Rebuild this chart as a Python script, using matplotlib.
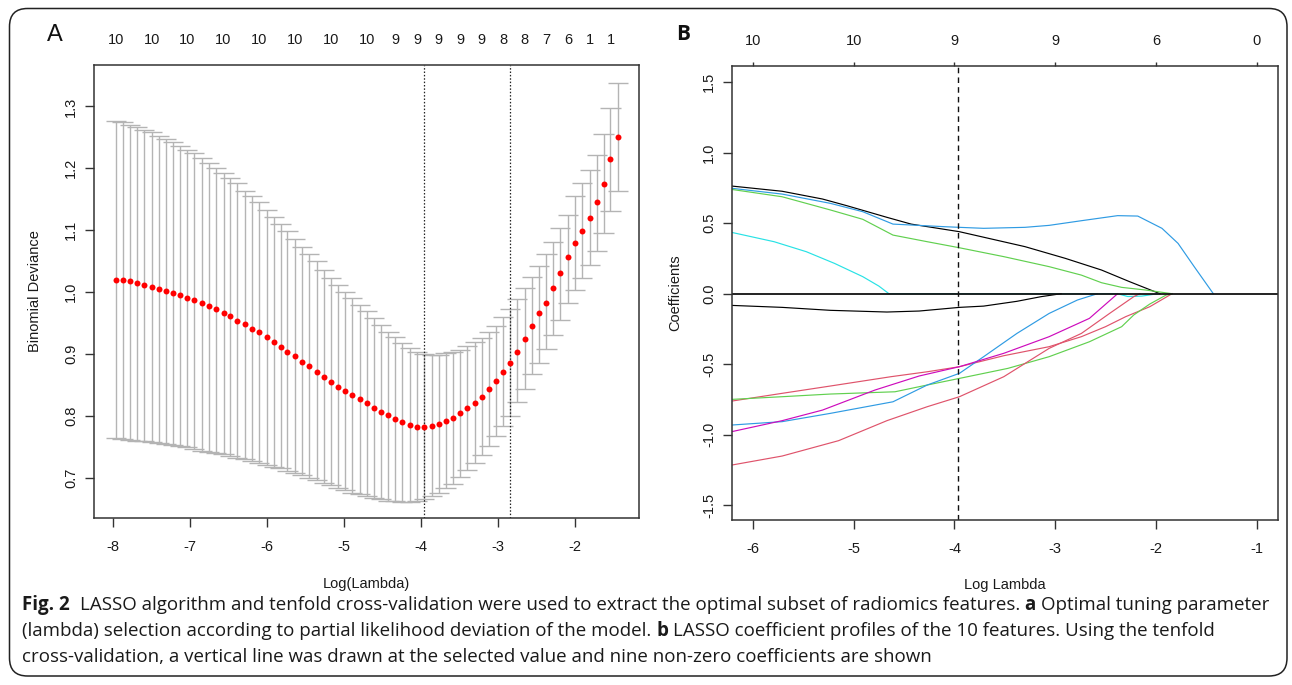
import matplotlib
matplotlib.use("Agg")
import matplotlib.pyplot as plt
from matplotlib import font_manager
from matplotlib.patches import FancyBboxPatch
from matplotlib.transforms import IdentityTransform

W, H = 1292, 685

# ---------- panel A: cross-validated binomial deviance ----------
log_lambda = [-7.96, -7.87, -7.77, -7.68, -7.59, -7.49, -7.40, -7.31, -7.21, -7.12,
              -7.03, -6.94, -6.84, -6.75, -6.66, -6.56, -6.47, -6.38, -6.28, -6.19,
              -6.10, -6.00, -5.91, -5.82, -5.73, -5.63, -5.54, -5.45, -5.35, -5.26,
              -5.17, -5.07, -4.98, -4.89, -4.79, -4.70, -4.61, -4.52, -4.42, -4.33,
              -4.24, -4.14, -4.05, -3.96, -3.86, -3.77, -3.68, -3.58, -3.49, -3.40,
              -3.30, -3.21, -3.12, -3.03, -2.93, -2.84, -2.75, -2.65, -2.56, -2.47,
              -2.37, -2.28, -2.19, -2.09, -2.00, -1.91, -1.81, -1.72, -1.63, -1.54,
              -1.44]
cv_mean = [1.020, 1.019, 1.018, 1.015, 1.012, 1.008, 1.005, 1.002, 0.999, 0.995, 0.991, 0.987,
           0.982, 0.978, 0.972, 0.966, 0.961, 0.954, 0.948, 0.941, 0.935, 0.928, 0.920, 0.912,
           0.904, 0.896, 0.887, 0.880, 0.871, 0.863, 0.854, 0.847, 0.841, 0.833, 0.827, 0.821,
           0.813, 0.807, 0.801, 0.795, 0.790, 0.786, 0.782, 0.782, 0.784, 0.787, 0.791, 0.796,
           0.804, 0.813, 0.821, 0.831, 0.843, 0.857, 0.871, 0.886, 0.904, 0.924, 0.946, 0.966,
           0.983, 1.006, 1.031, 1.057, 1.080, 1.099, 1.120, 1.145, 1.175, 1.215, 1.250]
cv_upper = [1.277, 1.275, 1.270, 1.267, 1.262, 1.258, 1.253, 1.248, 1.242, 1.236, 1.230, 1.224,
            1.216, 1.209, 1.201, 1.192, 1.185, 1.176, 1.164, 1.155, 1.145, 1.133, 1.122, 1.110,
            1.098, 1.086, 1.073, 1.061, 1.050, 1.036, 1.023, 1.011, 1.000, 0.990, 0.979, 0.969,
            0.958, 0.947, 0.936, 0.927, 0.918, 0.909, 0.903, 0.900, 0.898, 0.898, 0.901, 0.904,
            0.907, 0.913, 0.919, 0.926, 0.936, 0.946, 0.959, 0.973, 0.989, 1.006, 1.025, 1.043,
            1.061, 1.081, 1.103, 1.124, 1.155, 1.177, 1.198, 1.222, 1.256, 1.298, 1.338]
cv_lower = [0.764, 0.763, 0.761, 0.760, 0.759, 0.758, 0.756, 0.755, 0.753, 0.751, 0.749, 0.746,
            0.744, 0.742, 0.740, 0.738, 0.735, 0.732, 0.730, 0.727, 0.724, 0.721, 0.718, 0.715,
            0.711, 0.708, 0.704, 0.700, 0.696, 0.691, 0.688, 0.684, 0.680, 0.676, 0.673, 0.670,
            0.667, 0.665, 0.663, 0.662, 0.661, 0.661, 0.663, 0.666, 0.671, 0.675, 0.683, 0.690,
            0.701, 0.712, 0.724, 0.736, 0.751, 0.767, 0.783, 0.800, 0.822, 0.844, 0.867, 0.886,
            0.908, 0.931, 0.955, 0.982, 1.004, 1.023, 1.044, 1.066, 1.095, 1.131, 1.164]
lambda_min = -3.96
lambda_1se = -2.84
nz_idx = [0, 5, 10, 15, 20, 25, 30, 35, 39, 42, 45, 48, 51, 54, 57, 60, 63, 66, 69]
nz_lab = ["10", "10", "10", "10", "10", "10", "10", "10", "9", "9", "9", "9", "9",
          "8", "8", "7", "6", "1", "1"]

# ---------- panel B: coefficient profiles ----------
b_ticks = [-6, -5, -4, -3, -2, -1]
b_df = ["10", "10", "9", "9", "6", "0"]

black_pos_x = [-6.21, -5.71, -5.31, -5.07, -4.67, -4.43, -3.95, -3.30, -2.90, -2.54, -2.26, -1.96]
black_pos_y = [0.764, 0.727, 0.672, 0.625, 0.542, 0.494, 0.440, 0.334, 0.251, 0.168, 0.085, 0.0]
blue_pos_x = [-6.21, -5.71, -5.23, -4.91, -4.61, -4.11, -3.95, -3.71, -3.30, -3.06, -2.74,
              -2.38, -2.18, -1.94, -1.78, -1.62, -1.43]
blue_pos_y = [0.748, 0.707, 0.641, 0.582, 0.494, 0.476, 0.471, 0.464, 0.471, 0.485, 0.518,
              0.554, 0.551, 0.464, 0.357, 0.192, 0.0]
green_pos_x = [-6.21, -5.71, -5.23, -4.91, -4.61, -4.27, -3.95, -3.51, -3.06, -2.74, -2.54,
               -2.34, -2.10, -1.84]
green_pos_y = [0.740, 0.688, 0.594, 0.528, 0.416, 0.369, 0.326, 0.263, 0.192, 0.132, 0.078,
               0.045, 0.026, 0.0]
cyan_x = [-6.21, -5.79, -5.47, -5.19, -4.91, -4.75, -4.65, -2.38, -2.28, -2.14, -1.98]
cyan_y = [0.435, 0.369, 0.298, 0.215, 0.121, 0.054, 0.0, 0.0, -0.020, -0.017, 0.0]
black_neg_x = [-6.21, -5.71, -5.23, -4.67, -4.35, -3.95, -3.71, -3.38, -3.14, -2.94]
black_neg_y = [-0.083, -0.097, -0.118, -0.130, -0.123, -0.097, -0.088, -0.054, -0.021, 0.0]
pink_a_x = [-6.21, -5.71, -5.23, -4.63, -4.27, -3.95, -3.51, -3.06, -2.74, -2.50, -2.30,
            -2.06, -1.84]
pink_a_y = [-0.762, -0.707, -0.655, -0.589, -0.554, -0.518, -0.440, -0.376, -0.305, -0.234,
            -0.163, -0.092, 0.0]
green_neg_x = [-6.21, -5.71, -5.23, -4.59, -4.27, -3.95, -3.47, -3.06, -2.66, -2.34, -2.22,
               -2.06, -1.90, -1.84]
green_neg_y = [-0.750, -0.731, -0.712, -0.696, -0.648, -0.601, -0.530, -0.447, -0.341, -0.234,
               -0.151, -0.073, -0.010, 0.0]
blue_neg_x = [-6.21, -5.71, -5.23, -4.61, -4.27, -3.95, -3.71, -3.38, -3.06, -2.78, -2.58]
blue_neg_y = [-0.932, -0.908, -0.849, -0.767, -0.648, -0.565, -0.447, -0.282, -0.140, -0.045, 0.0]
magenta_x = [-6.21, -5.71, -5.31, -4.79, -4.35, -3.95, -3.51, -3.06, -2.66, -2.38]
magenta_y = [-0.979, -0.901, -0.826, -0.684, -0.584, -0.518, -0.423, -0.305, -0.175, 0.0]
pink_b_x = [-6.21, -5.71, -5.15, -4.67, -4.27, -3.95, -3.51, -3.06, -2.74, -2.46, -2.22, -2.16]
pink_b_y = [-1.216, -1.152, -1.043, -0.901, -0.802, -0.731, -0.589, -0.388, -0.282, -0.140,
            -0.021, 0.0]

caption = [
    [("Fig. 2", True), ("  ", False),
     ("LASSO algorithm and tenfold cross-validation were used to extract the optimal subset "
      "of radiomics features.", False), (" ", False), ("a", True), (" ", False),
     ("Optimal tuning parameter", False)],
    [("(lambda) selection according to partial likelihood deviation of the model.", False),
     (" ", False), ("b", True), (" ", False),
     ("LASSO coefficient profiles of the 10 features. Using the tenfold", False)],
    [("cross-validation, a vertical line was drawn at the selected value and nine non-zero "
      "coefficients are shown", False)],
]

plt.rcParams['font.family'] = ['Liberation Sans', 'DejaVu Sans']
plt.rcParams['axes.unicode_minus'] = False

installed = {f.name for f in font_manager.fontManager.ttflist}
cap_font = 'Liberation Sans Narrow' if 'Liberation Sans Narrow' in installed else 'Open Sans'

fig = plt.figure(figsize=(W / 100, H / 100), dpi=100)
spine_col = '#333333'
txt_col = '#1a1a1a'


def style_axes(ax):
    for s in ax.spines.values():
        s.set_color(spine_col)
        s.set_linewidth(1.1)
    ax.tick_params(axis='x', length=6.5, width=1, color=spine_col, labelsize=10.5,
                   labelcolor=txt_col, pad=9)
    ax.tick_params(axis='y', length=6.5, width=1, color=spine_col, labelsize=10.5,
                   labelcolor=txt_col, pad=5)
    for lab in ax.get_yticklabels():
        lab.set_rotation(90)
        lab.set_va('center')


# ----- panel A -----
axA = fig.add_axes([94 / W, 1 - 518 / H, 545 / W, 453 / H])
grey = '#b4b4b4'
barw = 0.02 * (max(log_lambda) - min(log_lambda))
axA.vlines(log_lambda, cv_lower, cv_upper, color=grey, lw=1.0)
axA.hlines(cv_upper, [x - barw for x in log_lambda], [x + barw for x in log_lambda],
           color=grey, lw=1.0)
axA.hlines(cv_lower, [x - barw for x in log_lambda], [x + barw for x in log_lambda],
           color=grey, lw=1.0)
axA.plot(log_lambda, cv_mean, 'o', color='red', ms=4.3, mec='none', zorder=3)
for v in (lambda_min, lambda_1se):
    axA.axvline(v, color='#222222', lw=0.9, ls=(0, (1.2, 1.5)))
axA.set_xlim(-8.24, -1.17)
axA.set_ylim(0.635, 1.367)
axA.set_xticks([-8, -7, -6, -5, -4, -3, -2])
axA.set_xticklabels(["-8", "-7", "-6", "-5", "-4", "-3", "-2"])
axA.set_yticks([0.7, 0.8, 0.9, 1.0, 1.1, 1.2, 1.3])
axA.set_yticklabels(["0.7", "0.8", "0.9", "1.0", "1.1", "1.2", "1.3"])
style_axes(axA)
axA.set_xlabel("Log(Lambda)", fontsize=10.5, color=txt_col, labelpad=17)
axA.set_ylabel("Binomial Deviance", fontsize=10.5, color=txt_col, labelpad=16)
topA = axA.secondary_xaxis('top')
topA.set_xticks([log_lambda[i] for i in nz_idx])
topA.set_xticklabels(nz_lab)
topA.tick_params(length=0, labelsize=10.5, labelcolor=txt_col, pad=13)
topA.spines['top'].set_visible(False)

# ----- panel B -----
axB = fig.add_axes([732 / W, 1 - 520 / H, 545.5 / W, 454 / H])
lw = 0.85
axB.plot(black_pos_x, black_pos_y, color='#000000', lw=lw)
axB.plot(blue_pos_x, blue_pos_y, color='#2f9be3', lw=lw)
axB.plot(green_pos_x, green_pos_y, color='#61D04F', lw=lw)
axB.plot(cyan_x, cyan_y, color='#28E2E5', lw=lw)
axB.plot(black_neg_x, black_neg_y, color='#000000', lw=lw)
axB.plot(pink_a_x, pink_a_y, color='#DF536B', lw=lw)
axB.plot(green_neg_x, green_neg_y, color='#61D04F', lw=lw)
axB.plot(blue_neg_x, blue_neg_y, color='#2f9be3', lw=lw)
axB.plot(magenta_x, magenta_y, color='#CD0BBC', lw=lw)
axB.plot(pink_b_x, pink_b_y, color='#DF536B', lw=lw)
axB.axhline(0, color='#111111', lw=1.3)
axB.axvline(lambda_min, color='#111111', lw=1.0, ls=(0, (4, 3)))
axB.set_xlim(-6.208, -0.793)
axB.set_ylim(-1.606, 1.616)
axB.set_xticks(b_ticks)
axB.set_xticklabels([str(t) for t in b_ticks])
axB.set_yticks([-1.5, -1.0, -0.5, 0.0, 0.5, 1.0, 1.5])
axB.set_yticklabels(["-1.5", "-1.0", "-0.5", "0.0", "0.5", "1.0", "1.5"])
style_axes(axB)
axB.set_xlabel("Log Lambda", fontsize=10.5, color=txt_col, labelpad=16)
axB.set_ylabel("Coefficients", fontsize=10.5, color=txt_col, labelpad=14)
topB = axB.secondary_xaxis('top')
topB.set_xticks(b_ticks)
topB.set_xticklabels(b_df)
topB.tick_params(length=3, width=1, color=spine_col, labelsize=10.5, labelcolor=txt_col, pad=10)
topB.spines['top'].set_visible(False)

# panel letters
fig.text(55 / W, 1 - 35 / H, "A", fontsize=17, color='#111111', ha='center', va='center')
fig.text(683 / W, 1 - 35 / H, "B", fontsize=15, fontweight='bold', color='#111111',
         ha='center', va='center', family=['Open Sans', 'DejaVu Sans'])

# rounded frame
frame = FancyBboxPatch((9.5, 9), 1277.5, 667.5, boxstyle="round,pad=0,rounding_size=18",
                       transform=IdentityTransform(), fill=False, ec='#222222', lw=1.1)
fig.patches.append(frame)

# caption with bold runs
renderer = fig.canvas.get_renderer()


def run_width(s, size, bold):
    if s.strip() == "":
        a = fig.text(0, 0, "a" + s + "a", fontsize=size, family=cap_font,
                     fontweight='bold' if bold else 'normal')
        b = fig.text(0, 0, "aa", fontsize=size, family=cap_font,
                     fontweight='bold' if bold else 'normal')
        w = a.get_window_extent(renderer).width - b.get_window_extent(renderer).width
        a.remove()
        b.remove()
        return w
    t = fig.text(0, 0, s, fontsize=size, family=cap_font, fontweight='bold' if bold else 'normal')
    w = t.get_window_extent(renderer).width
    t.remove()
    return w


base = 10.0
w1 = sum(run_width(s, base, b) for s, b in caption[0])
cap_size = base * 1250 / w1
baselines = [610, 636, 662]
for line, yb in zip(caption, baselines):
    x = 22.0
    for s, b in line:
        if s.strip():
            fig.text(x / W, 1 - yb / H, s, fontsize=cap_size, family=cap_font,
                     fontweight='bold' if b else 'normal', color='#1a1a1a', va='baseline')
        x += run_width(s, cap_size, b)

fig.savefig("out.png", dpi=100)
